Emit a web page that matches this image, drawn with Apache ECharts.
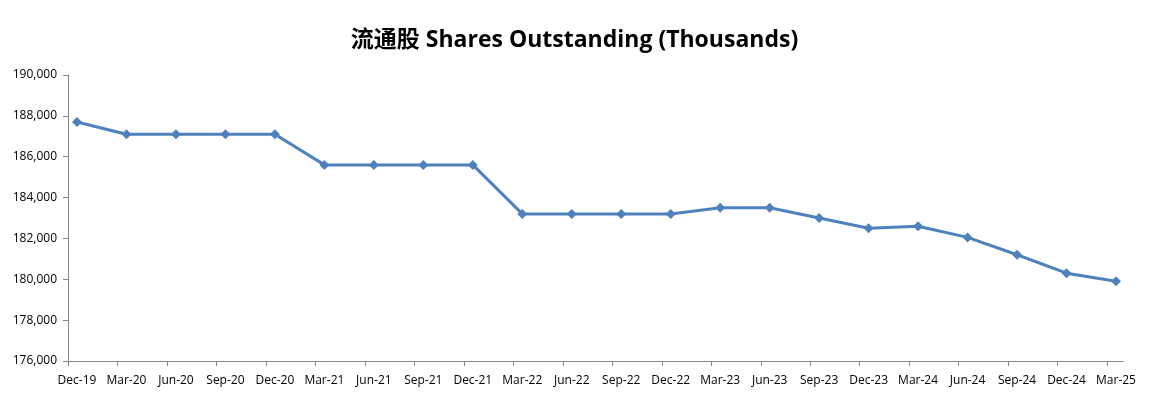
<!DOCTYPE html>
<html>
<head>
<meta charset="utf-8">
<script src="https://cdn.jsdelivr.net/npm/echarts@6/dist/echarts.min.js"></script>
<style>
  html, body { margin: 0; padding: 0; background: #fff; }
  #chart { width: 1149px; height: 397px; }
</style>
</head>
<body>
<div id="chart"></div>
<script>
// quarter-end labels
var quarters = ['Dec-19', 'Mar-20', 'Jun-20', 'Sep-20', 'Dec-20', 'Mar-21', 'Jun-21', 'Sep-21', 'Dec-21',
  'Mar-22', 'Jun-22', 'Sep-22', 'Dec-22', 'Mar-23', 'Jun-23', 'Sep-23', 'Dec-23', 'Mar-24', 'Jun-24',
  'Sep-24', 'Dec-24', 'Mar-25']
// shares outstanding, thousands
var shares = [187700, 187100, 187100, 187100, 187100, 185600, 185600, 185600, 185600,
  183200, 183200, 183200, 183200, 183500, 183500, 183000, 182500, 182600, 182050,
  181200, 180300, 179900]
var yMin = 176000
var yMax = 190000
var yStep = 2000

var chart = echarts.init(document.getElementById('chart'))
var axisColor = '#868686'
var labelFont = '"Open Sans", sans-serif'

// excel-style axis: tick marks sit a bit left of each point,
// so the frame (grid 0) is a value axis and the data lives on grid 1
var tickPos = quarters.map(function (q, i) { return i })

var option = {
  animation: false,
  title: {
    text: '流通股 Shares Outstanding (Thousands)',
    left: 'center',
    top: 24,
    textStyle: {
      fontFamily: '"Open Sans", "Noto Sans CJK SC", sans-serif',
      fontWeight: 'bold',
      fontSize: 23,
      color: '#000'
    }
  },
  grid: [
    { left: 68, right: 26, top: 75, bottom: 36 },
    { left: 77, right: 33, top: 75, bottom: 36 }
  ],
  xAxis: [
    {
      gridIndex: 0,
      type: 'value',
      min: 0,
      max: 21.32,
      interval: 1,
      axisLine: { show: true, onZero: false, lineStyle: { color: axisColor, width: 1 } },
      axisTick: { show: true, length: 5, customValues: tickPos, lineStyle: { color: axisColor } },
      axisLabel: { show: false },
      splitLine: { show: false }
    },
    {
      gridIndex: 1,
      type: 'category',
      data: quarters,
      boundaryGap: false,
      axisLine: { show: false },
      axisTick: { show: false },
      axisLabel: {
        interval: 0,
        color: '#000',
        fontSize: 12,
        margin: 14,
        fontFamily: labelFont
      },
      splitLine: { show: false }
    }
  ],
  yAxis: [
    {
      gridIndex: 0,
      type: 'value',
      min: yMin,
      max: yMax,
      interval: yStep,
      axisLine: { show: true, lineStyle: { color: axisColor, width: 1 } },
      axisTick: { show: true, length: 5, lineStyle: { color: axisColor } },
      axisLabel: {
        color: '#000',
        fontSize: 12,
        margin: 11,
        fontFamily: labelFont,
        formatter: function (v) { return v.toLocaleString('en-US') }
      },
      splitLine: { show: false }
    },
    {
      gridIndex: 1,
      type: 'value',
      min: yMin,
      max: yMax,
      interval: yStep,
      show: false
    }
  ],
  series: [
    {
      type: 'line',
      xAxisIndex: 1,
      yAxisIndex: 1,
      data: shares,
      symbol: 'diamond',
      symbolSize: 10,
      lineStyle: { color: '#4F81BD', width: 3 },
      itemStyle: { color: '#4F81BD' }
    }
  ]
}
chart.setOption(option)
</script>
</body>
</html>
